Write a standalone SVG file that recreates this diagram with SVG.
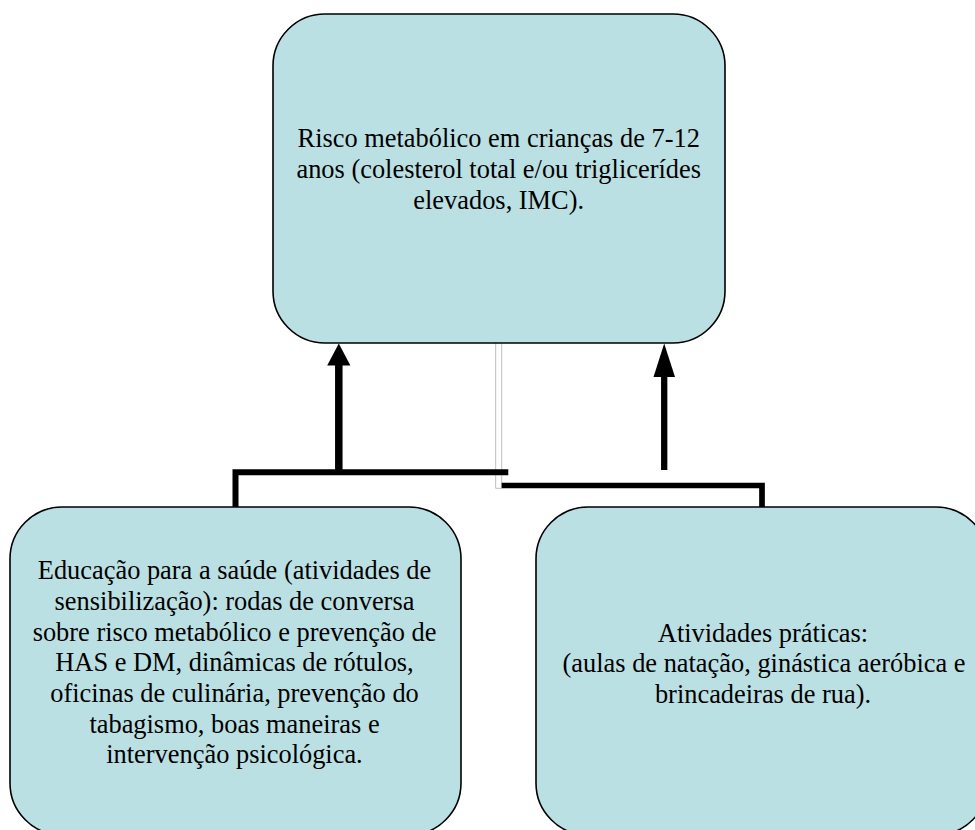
<svg xmlns="http://www.w3.org/2000/svg" width="975" height="830" viewBox="0 0 975 830">
<style>
.box{fill:#BBE0E3;stroke:#000;stroke-width:1.6}
.t{font-family:"Liberation Serif","Times New Roman",serif;font-size:26.4px;fill:#000;text-anchor:middle}
.bar{fill:none;stroke:#000;stroke-linecap:butt;stroke-linejoin:miter}
.grey{fill:none;stroke:#BDBDBD;stroke-width:1}
</style>
<rect width="975" height="830" fill="#fff"/>
<g id="connectors">
  <path class="grey" d="M495.7,343 V488.3 H501.7 V343"/>
  <path class="bar" stroke-width="6" d="M235.5,507 V472.3 H508.3"/>
  <path class="bar" stroke-width="5.7" d="M501.7,485.5 H762 V507"/>
  <line class="bar" stroke-width="7.5" x1="338.8" y1="472.3" x2="338.8" y2="362"/>
  <polygon points="338.8,343.5 327.2,365.5 350.4,365.5" fill="#000"/>
  <line class="bar" stroke-width="6.3" x1="664.2" y1="470" x2="664.2" y2="372"/>
  <polygon points="664.2,343.5 653.5,377 675,377" fill="#000"/>
</g>
<g id="node-top">
  <rect class="box" x="273" y="14" width="452" height="329" rx="52" ry="52"/>
  <text class="t" x="498.7" y="147">Risco metabólico em crianças de 7-12</text>
  <text class="t" x="498.7" y="178">anos (colesterol total e/ou triglicerídes</text>
  <text class="t" x="498.7" y="208.6">elevados, IMC).</text>
</g>
<g id="node-left">
  <rect class="box" x="10" y="507" width="451" height="328" rx="52" ry="52"/>
  <text class="t" x="234.5" y="579">Educação para a saúde (atividades de</text>
  <text class="t" x="234.5" y="610">sensibilização): rodas de conversa</text>
  <text class="t" x="234.5" y="640.6">sobre risco metabólico e prevenção de</text>
  <text class="t" x="234.5" y="671.3">HAS e DM, dinâmicas de rótulos,</text>
  <text class="t" x="234.5" y="702">oficinas de culinária, prevenção do</text>
  <text class="t" x="234.5" y="732.7">tabagismo, boas maneiras e</text>
  <text class="t" x="234.5" y="763.4">intervenção psicológica.</text>
</g>
<g id="node-right">
  <rect class="box" x="536" y="507" width="452" height="328" rx="52" ry="52"/>
  <text class="t" x="763" y="641.7">Atividades práticas:</text>
  <text class="t" x="764" y="672.4">(aulas de natação, ginástica aeróbica e</text>
  <text class="t" x="763" y="703">brincadeiras de rua).</text>
</g>
</svg>
